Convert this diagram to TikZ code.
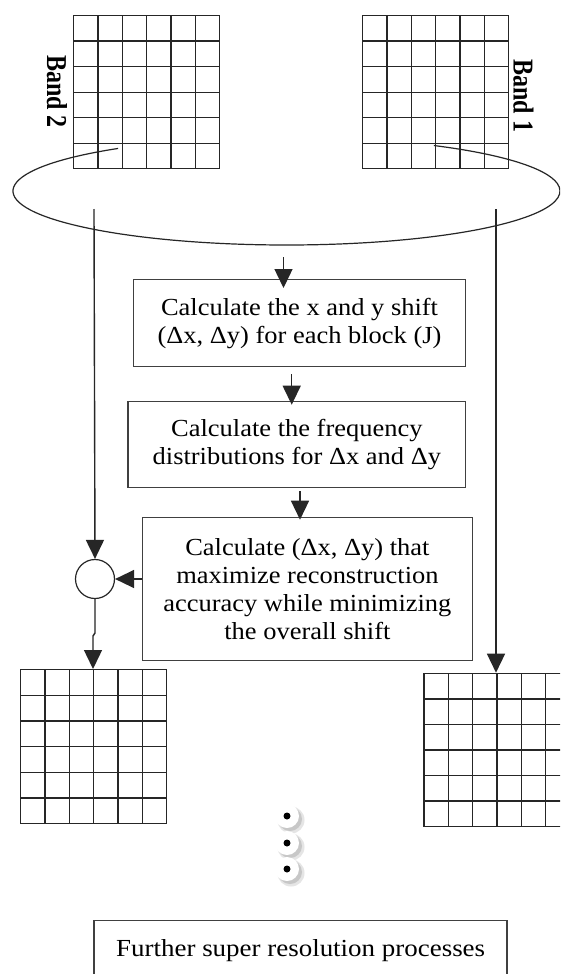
\documentclass[tikz,border=0pt]{standalone}
\usepackage{fontspec}
\setmainfont{Liberation Serif}
\newfontfamily\boxfont[FakeStretch=1.08]{Liberation Serif}
\newfontfamily\lastfont[FakeStretch=1.1]{Liberation Serif}
\usetikzlibrary{arrows.meta,calc}
\begin{document}
\begin{tikzpicture}[x=1pt,y=1pt,
  ln/.style={line width=1.4pt, draw=black!85},
  arr/.style={ln, -{Triangle[length=19pt,width=18pt]}},
  ell/.style={line width=1.2pt, draw=black!85},
  gridbox/.style={draw=black!85, line width=1.4pt, fill=white, minimum width=146pt,
    minimum height=153pt, inner sep=0pt, anchor=north west,
    path picture={
      \foreach \k in {1,...,5}{
        \draw[black!85, line width=1.4pt]
          ($(path picture bounding box.north west)!\k/6!(path picture bounding box.north east)$) --
          ($(path picture bounding box.south west)!\k/6!(path picture bounding box.south east)$);
        \draw[black!85, line width=1.4pt]
          ($(path picture bounding box.north west)!\k/6!(path picture bounding box.south west)$) --
          ($(path picture bounding box.north east)!\k/6!(path picture bounding box.south east)$);
      }
    }},
  stepbox/.style={draw=black!75, line width=1.4pt, fill=white, align=center,
    font=\boxfont\fontsize{24.5}{28}\selectfont, inner sep=0pt, anchor=north west},
  bandlabel/.style={font=\bfseries\fontsize{24}{24}\selectfont, rotate=-90, inner sep=0pt}
]
\useasboundingbox (0,0) rectangle (560,-974);
\clip (0,0) rectangle (560,-974);
\fill[white] (0,0) rectangle (560,-974);

% grids
\node[gridbox] (g2) at (73,-15) {};
\node[gridbox] (g1) at (362,-15) {};
\node[gridbox, minimum height=154pt] (g3) at (20,-669) {};
\node[gridbox] (g4) at (423.3,-672.7) {};

% band labels
\node[bandlabel] (l2) at (57,-91.5) {\scalebox{1}[1.2]{Band 2}};
\node[bandlabel] (l1) at (523.5,-96) {\scalebox{1}[1.2]{Band 1}};

% open ellipse
\draw[ell] (118.1,-148.45) arc[start angle=128, end angle=417.4, x radius=273.5, y radius=54];

% step boxes
\node[stepbox, minimum width=332.3pt, minimum height=87pt] (b1) at (132.7,-279)
  {Calculate the x and y shift\\(Δx, Δy) for each block (J)};
\node[stepbox, minimum width=337.7pt, minimum height=86pt] (b2) at (127.3,-400.7)
  {Calculate the frequency\\distributions for Δx and Δy};
\node[stepbox, minimum width=330pt, minimum height=143.3pt] (b3) at (141.7,-516.7)
  {Calculate (Δx, Δy) that\\maximize reconstruction\\accuracy while minimizing\\the overall shift};
\node[stepbox, minimum width=412pt, minimum height=60pt, font=\lastfont\fontsize{24.5}{28}\selectfont] (b4) at (94,-920)
  {Further super resolution processes};
\draw[black!75, line width=1.4pt] (b4.north west) -- ++(0,-80);
\draw[black!75, line width=1.4pt] (b4.north east) -- ++(0,-80);

% combining circle
\node[circle, draw=black!85, line width=1.2pt, fill=white, minimum size=39pt, inner sep=0pt] (mix) at (95,-579) {};

% coordinates
\coordinate (s2) at (94,-209);
\coordinate (s1) at (496,-209);
\coordinate (a0) at (283.5,-257);
\coordinate (x2) at (291.7,0);
\coordinate (x3) at (300,0);
\coordinate (j1) at (95,-633);
\coordinate (j2) at (93,-636);

% connectors
\draw[arr, shorten >=-9pt] (a0) -- (a0 |- b1.north);
\draw[arr, shorten <=7pt, shorten >=-4pt] (b1.south -| x2) -- (b2.north -| x2);
\draw[arr, shorten <=3pt, shorten >=-3pt] (b2.south -| x3) -- (b3.north -| x3);
\draw[arr] (s2) -- (mix.north);
\draw[arr] (mix.east -| b3.west) -- (mix.east);
\draw[arr] (mix.south) -- (j1) -- (j2) -- (j2 |- g3.north);
\draw[arr] (s1) -- (s1 |- g4.north);

% vertical ellipsis
\foreach \yy in {816,843,869}{
  \fill[black!10] (291,{-\yy-4}) circle (13.5);
  \fill[black!22] (290,{-\yy-3}) circle (12);
}
\foreach \yy in {816,843,869}{
  \fill[white] (287,-\yy) circle (12);
  \fill[black] (287,-\yy) circle (3.5);
}
\end{tikzpicture}
\end{document}
